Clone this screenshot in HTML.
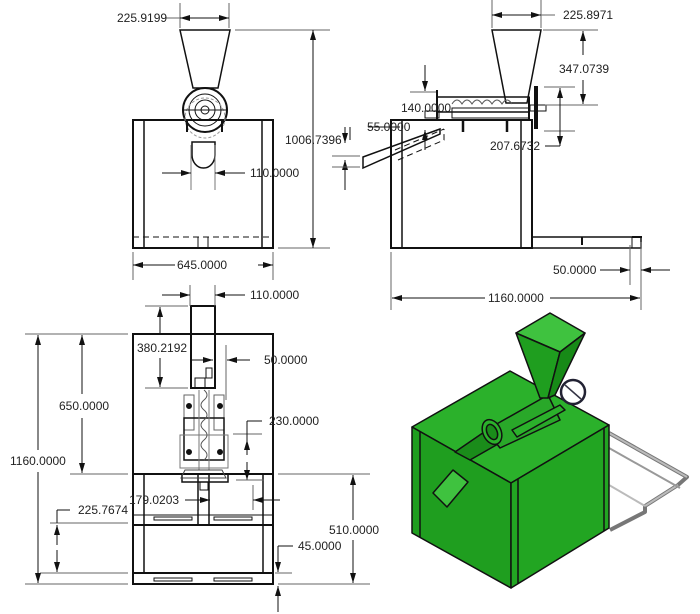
<!DOCTYPE html>
<html><head><style>
html,body{margin:0;padding:0;background:#fff;}
svg{display:block;}
text{font-family:"Liberation Sans",sans-serif;font-size:12px;fill:#222;}
</style></head><body>
<svg width="700" height="614" viewBox="0 0 700 614" xmlns="http://www.w3.org/2000/svg">
<defs>
<marker id="a" viewBox="0 0 10 6" refX="10" refY="3" markerWidth="10" markerHeight="6" orient="auto-start-reverse" markerUnits="userSpaceOnUse"><path d="M0,0L10,3L0,6z" fill="#111"/></marker>
</defs>
<g stroke="#111" fill="none" stroke-width="1">
<!-- TOP LEFT VIEW -->
<rect x="133" y="120" width="140" height="128" stroke-width="2"/>
<line x1="144" y1="120" x2="144" y2="248" stroke-width="1.5"/>
<line x1="262" y1="120" x2="262" y2="248" stroke-width="1.5"/>
<line x1="133" y1="237" x2="273" y2="237" stroke-dasharray="6,4"/>
<line x1="198" y1="237" x2="198" y2="248"/><line x1="208" y1="237" x2="208" y2="248"/>
<path d="M180,30L230,30L218,88L193,88Z" stroke-width="1.5"/>
<circle cx="205" cy="110" r="22" stroke-width="2"/>
<circle cx="205" cy="110" r="16"/><circle cx="205" cy="110" r="10"/><circle cx="205" cy="110" r="4"/>
<circle cx="205" cy="118" r="20" stroke="#999" stroke-dasharray="3,2"/>
<line x1="183" y1="110" x2="227" y2="110"/>
<line x1="187" y1="120" x2="187" y2="132" stroke-width="2"/><line x1="222" y1="120" x2="222" y2="132" stroke-width="2"/>
<path d="M192,142L215,142L215,155A11.5,13 0 0 1 192,155Z" stroke-width="1.5"/>
<line x1="191" y1="145" x2="191" y2="190" stroke="#777"/><line x1="215" y1="145" x2="215" y2="190" stroke="#777"/>
<line x1="180" y1="3" x2="180" y2="28" stroke="#666"/><line x1="229" y1="3" x2="229" y2="28" stroke="#666"/>
<line x1="165" y1="18" x2="180" y2="18" stroke="#666"/><line x1="180" y1="18" x2="229" y2="18" marker-start="url(#a)" marker-end="url(#a)"/>
<line x1="235" y1="30" x2="330" y2="30" stroke="#666"/><line x1="278" y1="248" x2="330" y2="248" stroke="#666"/>
<line x1="313" y1="30" x2="313" y2="248" marker-start="url(#a)" marker-end="url(#a)"/>
<line x1="162" y1="173" x2="191" y2="173" marker-end="url(#a)"/><line x1="245" y1="173" x2="215" y2="173" marker-end="url(#a)"/>
<line x1="133" y1="252" x2="133" y2="280" stroke="#666"/><line x1="273" y1="252" x2="273" y2="280" stroke="#666"/>
<line x1="175" y1="265" x2="133" y2="265" marker-end="url(#a)"/><line x1="258" y1="265" x2="273" y2="265" marker-end="url(#a)"/>
<line x1="345" y1="127" x2="345" y2="143" marker-end="url(#a)"/><line x1="345" y1="190" x2="345" y2="160" marker-end="url(#a)"/>
<line x1="332" y1="156" x2="360" y2="156" stroke="#666"/><line x1="332" y1="167" x2="360" y2="167" stroke="#666"/>

<!-- TOP RIGHT VIEW -->
<rect x="391" y="120" width="141" height="128" stroke-width="2"/>
<line x1="402" y1="120" x2="402" y2="248" stroke-width="1.5"/>
<line x1="521" y1="120" x2="521" y2="248" stroke-width="1.5"/>
<path d="M532,237L641,237L641,248L532,248" stroke-width="1.5"/>
<line x1="632" y1="237" x2="632" y2="248"/><line x1="582" y1="237" x2="582" y2="245" stroke-width="2"/>
<line x1="632" y1="237" x2="642" y2="237" stroke-width="2"/>
<path d="M492,30L541,30L527,103L506,103Z" stroke-width="1.5"/>
<rect x="437" y="97" width="92" height="15" stroke-width="1.5"/>
<rect x="452" y="108" width="77" height="10"/>
<path d="M452,104q5,-8 10,0q5,-8 10,0q5,-8 10,0q5,-8 10,0q5,-8 10,0q5,-8 10,0" stroke="#555"/>
<rect x="425" y="111" width="14" height="7"/>
<line x1="437" y1="90" x2="437" y2="120" stroke-width="2"/>
<line x1="529" y1="97" x2="529" y2="120" stroke-width="2"/>
<line x1="536" y1="86" x2="536" y2="129" stroke-width="4"/>
<rect x="530" y="105" width="16" height="6"/>
<line x1="463" y1="120" x2="463" y2="132" stroke-width="2.5"/><line x1="507" y1="120" x2="507" y2="132" stroke-width="2.5"/>
<path d="M363,157L440,129L440,134L363,168Z" stroke-width="1.5"/>
<path d="M395,150L444,129M398,160L444,140L444,129" stroke-dasharray="6,4"/>
<line x1="492" y1="0" x2="492" y2="28" stroke="#666"/><line x1="541" y1="0" x2="541" y2="28" stroke="#666"/>
<line x1="492" y1="15" x2="541" y2="15" marker-start="url(#a)" marker-end="url(#a)"/><line x1="541" y1="15" x2="555" y2="15" stroke="#666"/>
<line x1="543" y1="30" x2="598" y2="30" stroke="#666"/><line x1="545" y1="105" x2="598" y2="105" stroke="#666"/>
<line x1="583" y1="55" x2="583" y2="31" marker-end="url(#a)"/><line x1="583" y1="80" x2="583" y2="104" marker-end="url(#a)"/>
<line x1="544" y1="87" x2="575" y2="87" stroke="#666"/><line x1="544" y1="131" x2="575" y2="131" stroke="#666"/>
<line x1="560" y1="146" x2="560" y2="88" marker-start="url(#a)" marker-end="url(#a)"/><line x1="545" y1="146" x2="560" y2="146"/>
<line x1="425" y1="65" x2="425" y2="91" marker-end="url(#a)"/><line x1="410" y1="92" x2="436" y2="92" stroke="#666"/>
<line x1="425" y1="150" x2="425" y2="130" marker-end="url(#a)"/>
<line x1="400" y1="127" x2="368" y2="127"/><line x1="350" y1="127" x2="350" y2="140"/>
<line x1="391" y1="252" x2="391" y2="310" stroke="#666"/><line x1="641" y1="242" x2="641" y2="310" stroke="#666"/><line x1="630" y1="245" x2="630" y2="285" stroke="#666"/>
<line x1="485" y1="298" x2="392" y2="298" marker-end="url(#a)"/><line x1="550" y1="298" x2="640" y2="298" marker-end="url(#a)"/>
<line x1="600" y1="270" x2="630" y2="270" marker-end="url(#a)"/><line x1="670" y1="270" x2="641" y2="270" marker-end="url(#a)"/>

<!-- BOTTOM LEFT VIEW -->
<rect x="133" y="334" width="140" height="250" stroke-width="2"/>
<line x1="133" y1="474" x2="273" y2="474" stroke-width="2"/>
<line x1="133" y1="525" x2="273" y2="525" stroke-width="2"/>
<line x1="133" y1="573" x2="273" y2="573" stroke-width="2"/>
<line x1="133" y1="515" x2="273" y2="515"/>
<line x1="144" y1="474" x2="144" y2="573" stroke-width="1.5"/><line x1="263" y1="474" x2="263" y2="573" stroke-width="1.5"/>
<line x1="198" y1="474" x2="198" y2="525" stroke-width="1.5"/><line x1="209" y1="474" x2="209" y2="525" stroke-width="1.5"/>
<rect x="154" y="517" width="38" height="3"/><rect x="214" y="517" width="38" height="3"/>
<rect x="154" y="578" width="38" height="3"/><rect x="214" y="578" width="38" height="3"/>
<rect x="191" y="306" width="24" height="82" stroke-width="2"/>
<rect x="195" y="378" width="10" height="10"/><rect x="206" y="368" width="6" height="10"/>
<rect x="184" y="395" width="10" height="35" stroke="#666"/><rect x="214" y="395" width="10" height="35" stroke="#666"/>
<rect x="184" y="418" width="40" height="42" stroke-width="1.5"/>
<rect x="180" y="435" width="48" height="33" stroke="#777"/>
<circle cx="189" cy="406" r="2.5" fill="#111"/><circle cx="220" cy="406" r="2.5" fill="#111"/>
<circle cx="189" cy="452" r="2.5" fill="#111"/><circle cx="220" cy="452" r="2.5" fill="#111"/>
<path d="M204,390q6,5 0,10q-6,5 0,10q6,5 0,10q-6,5 0,10q6,5 0,10q-6,5 0,10q6,5 0,10" stroke="#555"/>
<line x1="199" y1="390" x2="199" y2="470" stroke="#777"/><line x1="209" y1="390" x2="209" y2="470" stroke="#777"/>
<path d="M182,474L228,474L228,482L182,482Z" stroke-width="1.5"/>
<path d="M185,470L222,470L226,478L181,478Z" stroke="#444"/>
<rect x="200" y="482" width="8" height="8"/>
<line x1="190" y1="285" x2="190" y2="306" stroke="#666"/><line x1="215" y1="285" x2="215" y2="306" stroke="#666"/>
<line x1="162" y1="295" x2="190" y2="295" marker-end="url(#a)"/><line x1="245" y1="295" x2="215" y2="295" marker-end="url(#a)"/>
<line x1="145" y1="306" x2="188" y2="306" stroke="#666"/><line x1="145" y1="388" x2="188" y2="388" stroke="#666"/>
<line x1="160" y1="333" x2="160" y2="307" marker-end="url(#a)"/><line x1="160" y1="358" x2="160" y2="387" marker-end="url(#a)"/>
<line x1="190" y1="360" x2="213" y2="360" marker-end="url(#a)"/><line x1="250" y1="360" x2="227" y2="360" marker-end="url(#a)"/>
<line x1="226" y1="345" x2="226" y2="400" stroke="#666"/>
<line x1="25" y1="334" x2="128" y2="334" stroke="#666"/><line x1="70" y1="474" x2="128" y2="474" stroke="#666"/>
<line x1="25" y1="584" x2="128" y2="584" stroke="#666"/><line x1="40" y1="573" x2="128" y2="573" stroke="#666"/>
<line x1="50" y1="523" x2="128" y2="523" stroke="#666"/>
<line x1="82" y1="394" x2="82" y2="335" marker-end="url(#a)"/><line x1="82" y1="418" x2="82" y2="473" marker-end="url(#a)"/>
<line x1="38" y1="450" x2="38" y2="335" marker-end="url(#a)"/><line x1="38" y1="472" x2="38" y2="583" marker-end="url(#a)"/>
<line x1="57" y1="510" x2="70" y2="510"/><line x1="57" y1="510" x2="57" y2="523"/>
<line x1="57" y1="545" x2="57" y2="525" marker-end="url(#a)"/><line x1="57" y1="550" x2="57" y2="572" marker-end="url(#a)"/>
<line x1="233" y1="434" x2="262" y2="434" stroke="#666"/>
<line x1="262" y1="421" x2="247" y2="421"/><line x1="247" y1="421" x2="247" y2="440"/>
<line x1="247" y1="455" x2="247" y2="440" marker-end="url(#a)"/><line x1="247" y1="462" x2="247" y2="480" marker-end="url(#a)"/>
<line x1="236" y1="480" x2="264" y2="480" stroke="#666"/><line x1="253" y1="485" x2="253" y2="510" stroke="#666"/>
<line x1="185" y1="500" x2="210" y2="500" marker-end="url(#a)"/><line x1="280" y1="500" x2="253" y2="500" marker-end="url(#a)"/>
<line x1="278" y1="474" x2="370" y2="474" stroke="#666"/><line x1="278" y1="584" x2="370" y2="584" stroke="#666"/>
<line x1="353" y1="520" x2="353" y2="475" marker-end="url(#a)"/><line x1="353" y1="540" x2="353" y2="583" marker-end="url(#a)"/>
<line x1="293" y1="546" x2="278" y2="546"/><line x1="278" y1="546" x2="278" y2="572" marker-end="url(#a)"/>
<line x1="278" y1="612" x2="278" y2="586" marker-end="url(#a)"/>
<line x1="275" y1="573" x2="292" y2="573" stroke="#666"/>
</g>

<!-- ISO VIEW -->
<g stroke="#111" stroke-width="1.5" stroke-linejoin="round">
<path d="M609,433L687,477L678,485L645,506L645,512L610,530" fill="none" stroke="#777" stroke-width="4"/>
<path d="M609,433L687,477M609,485L645,506M645,506L678,485" fill="none" stroke="#bbb" stroke-width="2"/>
<path d="M609,448L680,488" fill="none" stroke="#999" stroke-width="2"/>
<path d="M412,427L510,371L609,425L511,483Z" fill="#2bb12b"/>
<path d="M412,427L511,483L511,588L412,533Z" fill="#1f9e1f"/>
<path d="M511,483L609,425L609,528L511,588Z" fill="#22a522"/>
<line x1="420" y1="432" x2="420" y2="537"/><line x1="518" y1="479" x2="518" y2="584"/><line x1="604" y1="428" x2="604" y2="531"/>
<path d="M433,493L453,470L468,482L447,507Z" fill="#3fc23f"/>
<path d="M455,452L490,428L505,440L470,460Z" fill="#1a8c1a"/>
<path d="M486,430L548,395L560,420L500,448Z" fill="#29a829"/>
<ellipse cx="492" cy="432" rx="9" ry="13" fill="#2bb12b" transform="rotate(-25 492 432)"/>
<ellipse cx="492" cy="432" rx="5" ry="8" fill="#1a8c1a" transform="rotate(-25 492 432)"/>
<path d="M512,430L560,405L565,410L517,437Z" fill="#2bb12b"/>
<circle cx="573" cy="392" r="12" fill="none" stroke="#223" stroke-width="2.5"/>
<line x1="565" y1="385" x2="581" y2="399" stroke="#334"/>
<path d="M516,333L550,313L585,333L560,352Z" fill="#3fc23f"/>
<path d="M516,333L560,352L548,398L540,398Z" fill="#1f9e1f"/>
<path d="M560,352L585,333L555,395L548,398Z" fill="#178a17"/>
</g>

<text x="117" y="22">225.9199</text>
<text x="285" y="144">1006.7396</text>
<text x="250" y="177">110.0000</text>
<text x="177" y="269">645.0000</text>
<text x="563" y="19">225.8971</text>
<text x="559" y="73">347.0739</text>
<text x="490" y="150">207.6732</text>
<text x="401" y="112">140.0000</text>
<text x="367" y="131">55.0000</text>
<text x="488" y="302">1160.0000</text>
<text x="553" y="274">50.0000</text>
<text x="250" y="299">110.0000</text>
<text x="137" y="352">380.2192</text>
<text x="264" y="364">50.0000</text>
<text x="59" y="410">650.0000</text>
<text x="10" y="465">1160.0000</text>
<text x="269" y="425">230.0000</text>
<text x="129" y="504">179.0203</text>
<text x="78" y="514">225.7674</text>
<text x="329" y="534">510.0000</text>
<text x="298" y="550">45.0000</text>
</svg>
</body></html>
